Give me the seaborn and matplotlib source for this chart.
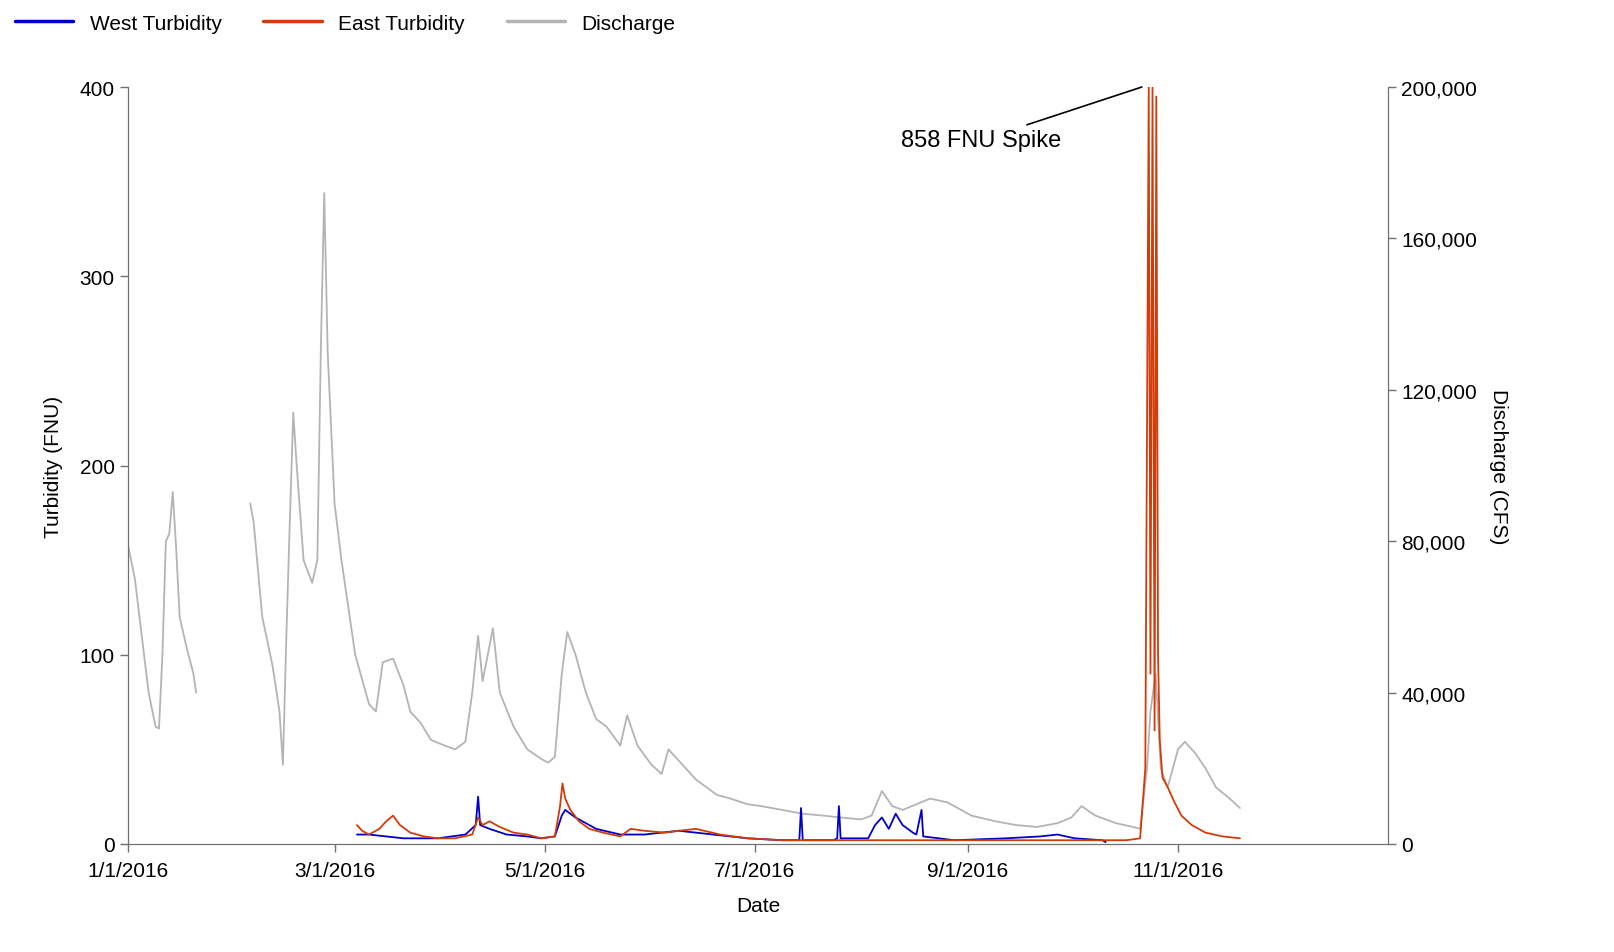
import matplotlib
matplotlib.use("Agg")
import matplotlib.pyplot as plt
from matplotlib.ticker import FuncFormatter
from matplotlib.lines import Line2D
import seaborn as sns
import pandas as pd

sns.set_style("white")
plt.rcParams['font.family'] = ['Liberation Sans', 'DejaVu Sans']
plt.rcParams['text.color'] = 'black'
plt.rcParams['axes.labelcolor'] = 'black'
plt.rcParams['xtick.color'] = 'black'
plt.rcParams['ytick.color'] = 'black'

START = pd.Timestamp('2016-01-01')

# Discharge (CFS), two segments (gap late Jan - early Feb); day-of-year offsets
dis1_days = [0, 2, 4, 6, 8, 9, 10, 11, 12, 13, 14, 15, 17, 19, 19.8]
dis1_vals = [79000, 70000, 55000, 40000, 31000, 30500, 50000, 80000, 82000, 93000, 78000, 60000, 52000, 45000, 40000]
dis2_days = [35.5, 36.5, 39, 42, 44, 45, 46, 47, 48, 49, 51, 53.5, 55, 56, 57, 58, 60, 62, 66, 70, 72, 74, 77, 80, 82, 85, 88, 92, 95, 98, 100, 101.7, 103, 104.5, 106, 108, 112, 116, 120, 122, 124, 126, 127.6, 130, 133, 136, 139, 143, 145, 148, 152, 155, 157, 159, 162, 165, 168, 171, 175, 180, 184, 190, 196, 202, 207, 213, 216, 219, 222, 225, 229, 233, 238, 245, 252, 258, 264, 270, 274, 277, 281, 287, 292, 294, 296, 297, 298.5, 300, 302, 305, 307, 310, 313, 316, 320, 323]
dis2_vals = [90000, 85000, 60000, 47000, 35000, 21000, 55000, 85000, 114000, 100000, 75000, 69000, 75000, 130000, 172000, 130000, 90000, 75000, 50000, 37000, 35000, 48000, 49000, 42000, 35000, 32000, 27500, 26000, 25000, 27000, 40000, 55000, 43000, 50000, 57000, 40000, 31000, 25000, 22500, 21500, 23000, 45000, 56000, 50000, 40000, 33000, 31000, 26000, 34000, 26000, 21000, 18500, 25000, 23000, 20000, 17000, 15000, 13000, 12000, 10500, 10000, 9000, 8000, 7500, 7000, 6500, 7500, 14000, 10000, 9000, 10500, 12000, 11000, 7500, 6000, 5000, 4500, 5500, 7000, 10000, 7500, 5500, 4500, 4000, 20000, 35000, 45000, 20000, 15000, 25000, 27000, 24000, 20000, 15000, 12000, 9500]

# East turbidity (FNU)
east_days = [66.5, 68, 70, 73, 75, 77, 79, 82, 86, 90, 95, 100, 101.7, 103, 105, 108, 112, 116, 120, 124, 125.5, 126.2, 127, 128.5, 131, 134, 138, 143, 146, 150, 156, 160, 165, 172, 180, 190, 200, 220, 240, 260, 280, 290, 294, 295.5, 296.5, 297, 297.6, 298.2, 298.7, 299.2, 299.7, 300.5, 302, 304, 306, 309, 313, 318, 323]
east_vals = [10, 7, 5, 8, 12, 15, 10, 6, 4, 3, 3, 5, 14, 10, 12, 9, 6, 5, 3, 4, 20, 32, 24, 18, 12, 8, 6, 4, 8, 7, 6, 7, 8, 5, 3, 2, 2, 2, 2, 2, 2, 2, 3, 40, 400, 90, 400, 60, 395, 100, 55, 35, 30, 22, 15, 10, 6, 4, 3]

# West turbidity (FNU)
west_days = [66.5, 70, 75, 80, 90, 98, 101, 101.7, 102.3, 105, 110, 116, 120, 124, 126, 127, 130, 136, 143, 150, 160, 170, 180, 190, 195, 195.5, 196, 205, 206, 206.5, 207, 215, 217, 219, 221, 223, 225, 228, 229, 230.5, 231, 240, 255, 265, 270, 275, 283, 284]
west_vals = [5, 5, 4, 3, 3, 5, 10, 25, 10, 8, 5, 4, 3, 4, 15, 18, 14, 8, 5, 5, 7, 5, 3, 2, 2, 19, 2, 2, 3, 20, 3, 3, 10, 14, 8, 16, 10, 6, 5, 18, 4, 2, 3, 4, 5, 3, 2, 1]

def to_dates(days):
    return START + pd.to_timedelta(days, unit='D')

fig = plt.figure(figsize=(16.15, 9.53), dpi=100)
ax = fig.add_axes([128/1615, 108/953, 1260/1615, 757/953])
ax2 = ax.twinx()

GREY = '#b4b4b4'
BLUE = '#0000c8'
RED = '#d43b0a'

sns.lineplot(x=to_dates(dis1_days), y=dis1_vals, ax=ax2, color=GREY, linewidth=1.3)
sns.lineplot(x=to_dates(dis2_days), y=dis2_vals, ax=ax2, color=GREY, linewidth=1.3)
sns.lineplot(x=to_dates(west_days), y=west_vals, ax=ax, color=BLUE, linewidth=1.3)
sns.lineplot(x=to_dates(east_days), y=east_vals, ax=ax, color=RED, linewidth=1.3)

ax.set_zorder(ax2.get_zorder() + 1)
ax.patch.set_visible(False)

ax.set_xlim(START, pd.Timestamp('2017-01-01'))
ax.set_ylim(0, 400)
ax2.set_ylim(0, 200000)
ax.set_yticks([0, 100, 200, 300, 400])
ax2.set_yticks([0, 40000, 80000, 120000, 160000, 200000])
ax2.yaxis.set_major_formatter(FuncFormatter(lambda v, p: f"{int(v):,}"))
ticks = pd.to_datetime(['2016-01-01', '2016-03-01', '2016-05-01', '2016-07-01', '2016-09-01', '2016-11-01'])
ax.set_xticks(ticks)
ax.set_xticklabels([f"{t.month}/{t.day}/{t.year}" for t in ticks])

for a in (ax, ax2):
    a.spines['top'].set_visible(False)
    for s in ('left', 'right', 'bottom'):
        a.spines[s].set_color('#707070')
    a.tick_params(axis='both', direction='out', length=6, color='#707070', labelsize=15, width=1)
ax.tick_params(axis='y', left=True)
ax.tick_params(axis='x', bottom=True, pad=6)
ax2.tick_params(axis='y', right=True)

ax.set_xlabel('Date', fontsize=15, labelpad=12)
ax.set_ylabel('Turbidity (FNU)', fontsize=15, labelpad=12)
ax2.set_ylabel('Discharge (CFS)', fontsize=15, rotation=270, labelpad=22)

ax.annotate('858 FNU Spike', xy=(to_dates([294.5])[0], 400), xytext=(to_dates([271])[0], 372),
            fontsize=17, ha='right', va='center',
            arrowprops=dict(arrowstyle='-', color='black', lw=1.2, shrinkA=2, shrinkB=0))

handles = [Line2D([], [], color=BLUE, lw=2.5), Line2D([], [], color=RED, lw=2.5), Line2D([], [], color=GREY, lw=2.5)]
fig.legend(handles, ['West Turbidity', 'East Turbidity', 'Discharge'], loc='upper left',
           bbox_to_anchor=(0.0, 1.0), ncol=3, frameon=False, fontsize=15,
           handlelength=2.8, columnspacing=2.0, borderaxespad=0.3)

fig.savefig('out.png', dpi=100)
